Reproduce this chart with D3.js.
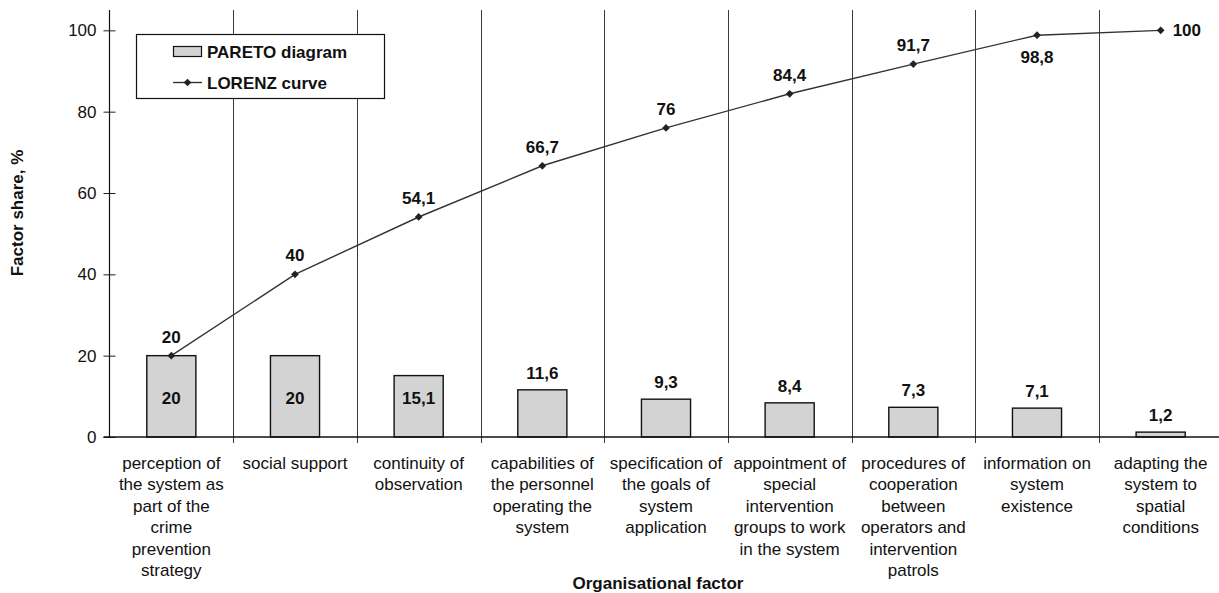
<!DOCTYPE html>
<html>
<head>
<meta charset="utf-8">
<script src="https://cdn.jsdelivr.net/npm/d3@7"></script>
<style>
  html, body { margin: 0; padding: 0; background: #fff; }
  svg { display: block; font-family: "Liberation Sans", Arial, sans-serif; }
</style>
</head>
<body>
<svg id="chart" width="1219" height="593"></svg>
<script>
// ---- data ----
const categories = [
  "perception of the system as part of the crime prevention strategy",
  "social support",
  "continuity of observation",
  "capabilities of the personnel operating the system",
  "specification of the goals of system application",
  "appointment of special intervention groups to work in the system",
  "procedures of cooperation between operators and intervention patrols",
  "information on system existence",
  "adapting the system to spatial conditions"
];
const categoryLines = [
  ["perception of", "the system as", "part of the", "crime", "prevention", "strategy"],
  ["social support"],
  ["continuity of", "observation"],
  ["capabilities of", "the personnel", "operating the", "system"],
  ["specification of", "the goals of", "system", "application"],
  ["appointment of", "special", "intervention", "groups to work", "in the system"],
  ["procedures of", "cooperation", "between", "operators and", "intervention", "patrols"],
  ["information on", "system", "existence"],
  ["adapting the", "system to", "spatial", "conditions"]
];
const paretoValues = [20, 20, 15.1, 11.6, 9.3, 8.4, 7.3, 7.1, 1.2];
const lorenzValues = [20, 40, 54.1, 66.7, 76, 84.4, 91.7, 98.8, 100];
const barLabelPlacement = ["inside", "inside", "inside", "above", "above", "above", "above", "above", "above"];
const lorenzLabelPlacement = ["above", "above", "above", "above", "above", "above", "above", "below", "right"];
const yTicks = [0, 20, 40, 60, 80, 100];
const seriesNames = ["PARETO diagram", "LORENZ curve"];
const yTitle = "Factor share, %";
const xTitle = "Organisational factor";

// ---- layout ----
const svg = d3.select("#chart");
const pLeft = 109.5, pRight = 1222.5, pTop = 10, pBottom = 437;
const fmt = v => String(v).replace(".", ",");

const x = d3.scaleBand().domain(d3.range(categories.length)).range([pLeft, pRight]).paddingInner(0).paddingOuter(0);
const y = d3.scaleLinear().domain([0, 105]).range([pBottom, pTop]);

// separators between categories (full-height lines + tick below axis)
const bounds = d3.range(1, categories.length + 1).map(i => pLeft + i * x.bandwidth());
svg.append("g").selectAll("line").data(bounds).join("line")
  .attr("x1", d => Math.round(d) + 0.5).attr("x2", d => Math.round(d) + 0.5)
  .attr("y1", pTop).attr("y2", pBottom + 6)
  .attr("stroke", "#3a3a3a").attr("stroke-width", 1);

// bars
const barW = x.bandwidth() * 0.397;
svg.append("g").selectAll("rect").data(paretoValues).join("rect")
  .attr("x", (d, i) => x(i) + x.bandwidth() / 2 - barW / 2)
  .attr("y", d => y(d))
  .attr("width", barW)
  .attr("height", d => y(0) - y(d))
  .attr("fill", "#d3d3d3").attr("stroke", "#111").attr("stroke-width", 1.4);

// y axis
const yAxis = d3.axisLeft(y).tickValues(yTicks).tickSizeInner(6).tickSizeOuter(0).tickPadding(7);
const yg = svg.append("g").attr("transform", `translate(${pLeft},0)`).call(yAxis);
yg.select(".domain").remove();
yg.selectAll(".tick line").attr("x2", 6).attr("x1", -6).attr("stroke", "#222");
yg.selectAll(".tick text").attr("font-size", 17).attr("fill", "#111")
  .attr("font-family", "Liberation Sans, Arial, sans-serif");
svg.append("line").attr("x1", pLeft).attr("x2", pLeft).attr("y1", pTop).attr("y2", pBottom)
  .attr("stroke", "#111").attr("stroke-width", 1.2);

// x axis line
svg.append("line").attr("x1", pLeft - 6).attr("x2", pRight).attr("y1", pBottom).attr("y2", pBottom)
  .attr("stroke", "#111").attr("stroke-width", 1.4);

// bar labels
svg.append("g").selectAll("text").data(paretoValues).join("text")
  .attr("x", (d, i) => x(i) + x.bandwidth() / 2)
  .attr("y", (d, i) => barLabelPlacement[i] === "inside" ? y(9.5) + 6 : y(d) - 11)
  .attr("text-anchor", "middle").attr("font-size", 17).attr("font-weight", "bold").attr("fill", "#111")
  .text(d => fmt(d));

// Lorenz line
const cx = i => x(i) + x.bandwidth() / 2;
const line = d3.line().x((d, i) => cx(i)).y(d => y(d));
svg.append("path").datum(lorenzValues).attr("d", line)
  .attr("fill", "none").attr("stroke", "#333").attr("stroke-width", 1.4);
const diamond = d3.symbol().type(d3.symbolSquare).size(30);
svg.append("g").selectAll("path").data(lorenzValues).join("path")
  .attr("d", diamond)
  .attr("transform", (d, i) => `translate(${cx(i)},${y(d)}) rotate(45)`)
  .attr("fill", "#222");

// Lorenz labels
svg.append("g").selectAll("text").data(lorenzValues).join("text")
  .attr("x", (d, i) => lorenzLabelPlacement[i] === "right" ? cx(i) + 12 : cx(i))
  .attr("y", (d, i) => {
    const p = lorenzLabelPlacement[i];
    if (p === "below") return y(d) + 28;
    if (p === "right") return y(d) + 6;
    return y(d) - 13;
  })
  .attr("text-anchor", (d, i) => lorenzLabelPlacement[i] === "right" ? "start" : "middle")
  .attr("font-size", 17).attr("font-weight", "bold").attr("fill", "#111")
  .text(d => fmt(d));

// category labels
const catG = svg.append("g");
categoryLines.forEach((lines, i) => {
  const t = catG.append("text").attr("text-anchor", "middle").attr("font-size", 17).attr("fill", "#111");
  lines.forEach((ln, j) => {
    t.append("tspan").attr("x", cx(i)).attr("y", 469 + j * 21.4).text(ln);
  });
});

// axis titles
svg.append("text").attr("x", (pLeft + pRight) / 2 - 8).attr("y", 589)
  .attr("text-anchor", "middle").attr("font-size", 17).attr("font-weight", "bold").attr("fill", "#111")
  .text(xTitle);
svg.append("text").attr("transform", "translate(23,213) rotate(-90)")
  .attr("text-anchor", "middle").attr("font-size", 17).attr("font-weight", "bold").attr("fill", "#111")
  .text(yTitle);

// legend
const lg = svg.append("g");
lg.append("rect").attr("x", 136.5).attr("y", 34.5).attr("width", 248).attr("height", 64)
  .attr("fill", "#fff").attr("stroke", "#111").attr("stroke-width", 1.2);
lg.append("rect").attr("x", 173.5).attr("y", 46.5).attr("width", 28).attr("height", 10)
  .attr("fill", "#d3d3d3").attr("stroke", "#111").attr("stroke-width", 1.2);
lg.append("text").attr("x", 207).attr("y", 58).attr("font-size", 17).attr("font-weight", "bold").attr("fill", "#111")
  .text(seriesNames[0]);
lg.append("line").attr("x1", 173).attr("x2", 202).attr("y1", 82.5).attr("y2", 82.5)
  .attr("stroke", "#333").attr("stroke-width", 1.4);
lg.append("path").attr("d", diamond).attr("transform", "translate(187.5,82.5) rotate(45)").attr("fill", "#222");
lg.append("text").attr("x", 207).attr("y", 89).attr("font-size", 17).attr("font-weight", "bold").attr("fill", "#111")
  .text(seriesNames[1]);
</script>
</body>
</html>
